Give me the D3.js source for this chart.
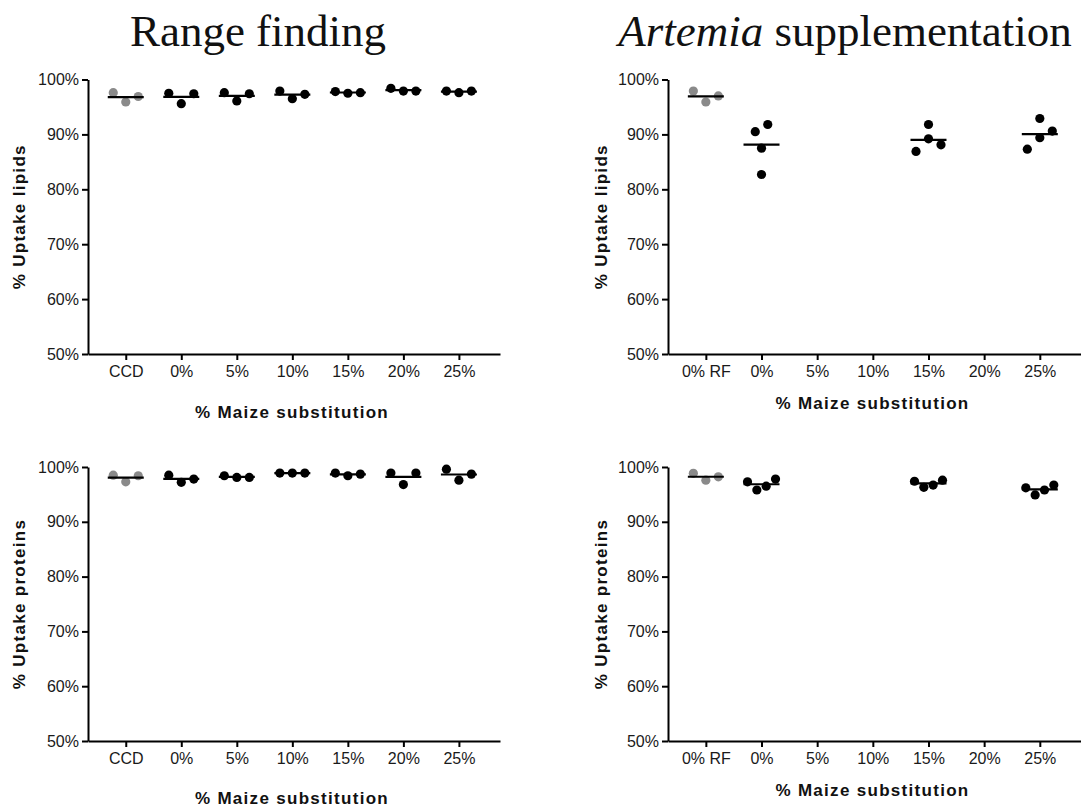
<!DOCTYPE html>
<html>
<head>
<meta charset="utf-8">
<script src="https://cdn.jsdelivr.net/npm/d3@7"></script>
<style>
  html, body { margin: 0; padding: 0; background: #fff; }
  svg { display: block; }
  .tick text { font-family: "Liberation Sans", Arial, sans-serif; font-size: 16px; fill: #1a1a1a; }
  .axis-title { font-family: "Liberation Sans", Arial, sans-serif; font-size: 17px; font-weight: bold; letter-spacing: 1.3px; fill: #111; }
  .panel-title { font-family: "Liberation Serif", "Times New Roman", serif; font-size: 45px; fill: #111; }
</style>
</head>
<body>
<svg id="chart" width="1081" height="810"></svg>
<script>
// Categories on the x axis
const rangeCategories = ["CCD", "0%", "5%", "10%", "15%", "20%", "25%"];
const artemiaCategories = ["0% RF", "0%", "5%", "10%", "15%", "20%", "25%"];

// Y axis ticks (percent uptake)
const yTicks = [50, 60, 70, 80, 90, 100];

// Range finding: % uptake of lipids, replicates per category
const rangeLipids = [
  [97.6, 95.9, 96.9],
  [97.5, 95.6, 97.4],
  [97.6, 96.1, 97.4],
  [97.9, 96.5, 97.3],
  [97.8, 97.5, 97.6],
  [98.4, 97.9, 97.9],
  [97.9, 97.6, 97.9]
];

// Range finding: % uptake of proteins
const rangeProteins = [
  [98.5, 97.3, 98.4],
  [98.5, 97.2, 97.8],
  [98.4, 98.1, 98.1],
  [98.9, 98.9, 98.9],
  [98.9, 98.4, 98.7],
  [98.9, 96.8, 98.9],
  [99.6, 97.6, 98.7]
];

// Artemia supplementation: % uptake of lipids
const artemiaLipids = [
  [97.9, 95.9, 97.0],
  [90.5, 87.5, 82.7, 91.8],
  [],
  [],
  [86.9, 91.8, 89.2, 88.1],
  [],
  [87.3, 92.9, 89.4, 90.6]
];

// Artemia supplementation: % uptake of proteins
const artemiaProteins = [
  [98.85, 97.6, 98.2],
  [97.3, 95.8, 96.5, 97.8],
  [],
  [],
  [97.4, 96.3, 96.7, 97.6],
  [],
  [96.2, 94.9, 95.8, 96.7]
];

const svg = d3.select("#chart");

// Panel titles
svg.append("text").attr("class", "panel-title")
  .attr("x", 258).attr("y", 46).attr("text-anchor", "middle")
  .text("Range finding");

const t2 = svg.append("text").attr("class", "panel-title")
  .attr("x", 845).attr("y", 46).attr("text-anchor", "middle");
t2.append("tspan").attr("font-style", "italic").text("Artemia");
t2.append("tspan").text(" supplementation");

const panels = [
  { cats: rangeCategories, data: rangeLipids, yLabel: "% Uptake lipids",
    x0: 88, x1: 500, yTop: 79.5, yBot: 354, xTitleY: 418, yTitleX: 19 },
  { cats: artemiaCategories, data: artemiaLipids, yLabel: "% Uptake lipids",
    x0: 668, x1: 1081, yTop: 79.5, yBot: 354, xTitleY: 409, yTitleX: 601 },
  { cats: rangeCategories, data: rangeProteins, yLabel: "% Uptake proteins",
    x0: 88, x1: 500, yTop: 467, yBot: 741, xTitleY: 804, yTitleX: 19 },
  { cats: artemiaCategories, data: artemiaProteins, yLabel: "% Uptake proteins",
    x0: 668, x1: 1081, yTop: 467, yBot: 741, xTitleY: 796, yTitleX: 601 }
];

const DOT_R = 4.6;
const MEAN_HALF = 18;
const OVERLAP = 12;      // vertical distance (px) under which dots are spread sideways
const MAX_STEP = 12.5;   // horizontal step between spread dots
const MAX_SPREAD = 28;   // widest spread of one cluster
const GREY = "#8a8a8a";

// Horizontal offsets: dots that sit close vertically are spread evenly around the category centre
function spreadOffsets(vals, y) {
  const n = vals.length;
  const offs = new Array(n).fill(0);
  const order = d3.range(n).sort((a, b) => y(vals[a]) - y(vals[b]));
  const clusters = [];
  let cur = [];
  order.forEach((idx, k) => {
    if (k > 0 && y(vals[idx]) - y(vals[order[k - 1]]) >= OVERLAP) {
      clusters.push(cur);
      cur = [];
    }
    cur.push(idx);
  });
  if (cur.length) clusters.push(cur);
  clusters.forEach(c => {
    c.sort((a, b) => a - b);
    const step = c.length > 1 ? Math.min(MAX_STEP, MAX_SPREAD / (c.length - 1)) : 0;
    c.forEach((idx, j) => { offs[idx] = (j - (c.length - 1) / 2) * step; });
  });
  return offs;
}

panels.forEach(p => {
  const x = d3.scaleLinear().domain([-0.68, 6.74]).range([p.x0, p.x1]);
  const y = d3.scaleLinear().domain([50, 100]).range([p.yBot, p.yTop]);

  const g = svg.append("g");

  // X axis
  const xAxis = d3.axisBottom(x)
    .tickValues(d3.range(p.cats.length))
    .tickFormat(i => p.cats[i])
    .tickSize(6).tickSizeOuter(0).tickPadding(6);
  const gx = g.append("g").attr("transform", `translate(0,${p.yBot})`).call(xAxis);

  // Y axis
  const yAxis = d3.axisLeft(y)
    .tickValues(yTicks)
    .tickFormat(d => d + "%")
    .tickSize(6).tickSizeOuter(0).tickPadding(3);
  const gy = g.append("g").attr("transform", `translate(${p.x0},0)`).call(yAxis);

  [gx, gy].forEach(a => {
    a.select(".domain").attr("stroke", "#000").attr("stroke-width", 2);
    a.selectAll(".tick line").attr("stroke", "#000").attr("stroke-width", 2);
    a.selectAll(".tick text").attr("font-family", null).attr("font-size", null);
  });
  gx.attr("font-family", null).attr("font-size", null);
  gy.attr("font-family", null).attr("font-size", null);

  // Axis titles
  g.append("text").attr("class", "axis-title")
    .attr("x", (p.x0 + p.x1) / 2 - 2).attr("y", p.xTitleY)
    .attr("text-anchor", "middle")
    .text("% Maize substitution");

  g.append("text").attr("class", "axis-title")
    .attr("transform", `translate(${p.yTitleX},${(p.yTop + p.yBot) / 2}) rotate(-90)`)
    .attr("text-anchor", "middle").attr("dominant-baseline", "central")
    .text(p.yLabel);

  // Dots and mean lines
  p.data.forEach((vals, i) => {
    if (!vals.length) return;
    const colour = i === 0 ? GREY : "#000";
    const offs = spreadOffsets(vals, y);
    g.append("g").selectAll("circle")
      .data(vals)
      .join("circle")
      .attr("cx", (d, k) => x(i) + offs[k])
      .attr("cy", d => y(d))
      .attr("r", DOT_R)
      .attr("fill", colour);

    const m = d3.mean(vals);
    g.append("line")
      .attr("x1", x(i) - MEAN_HALF).attr("x2", x(i) + MEAN_HALF)
      .attr("y1", y(m)).attr("y2", y(m))
      .attr("stroke", "#000").attr("stroke-width", 2.2);
  });
});
</script>
</body>
</html>
